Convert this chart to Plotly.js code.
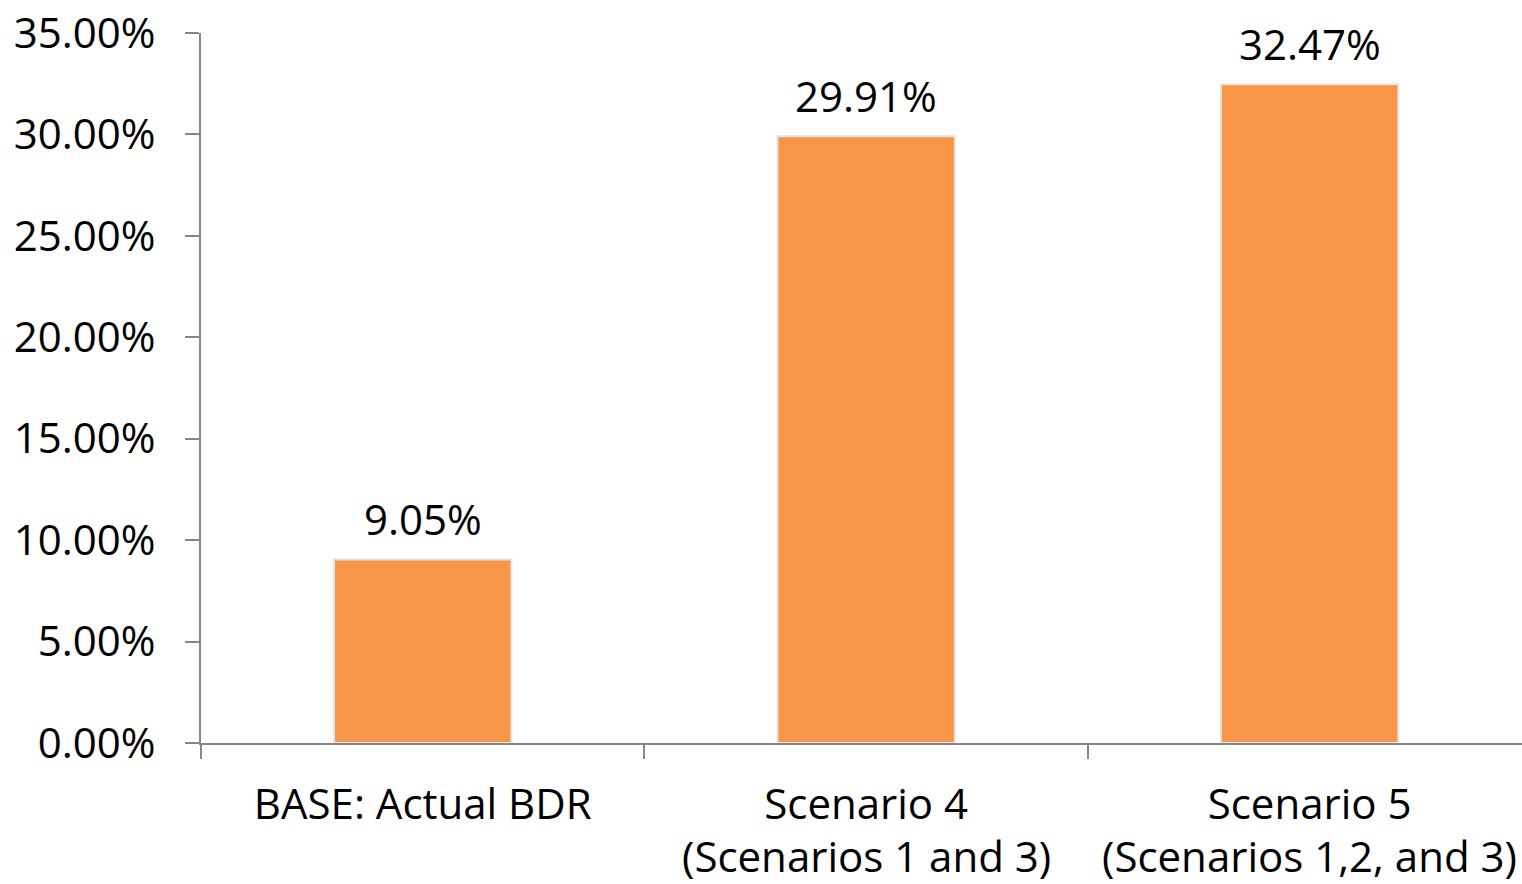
<!DOCTYPE html>
<html>
<head>
<meta charset="utf-8">
<script src="https://cdn.plot.ly/plotly-3.0.1.min.js"></script>
<style>
html,body{margin:0;padding:0;background:#fff;overflow:hidden;}
#chart{width:1522px;height:884px;}
</style>
</head>
<body>
<div id="chart"></div>
<script>
// Data
const categories = ["BASE: Actual BDR", "Scenario 4", "Scenario 5"];
const labelLine2 = ["", "(Scenarios 1 and 3)", "(Scenarios 1,2, and 3)"];
const values = [0.0905, 0.2991, 0.3247];
const yTicks = [0, 0.05, 0.10, 0.15, 0.20, 0.25, 0.30, 0.35];

const FONT = "Open Sans, sans-serif";
const FS = 42;
const AXIS_COLOR = "#868686";

const trace = {
  type: "bar",
  x: categories,
  y: values,
  marker: {color: "#F79646", line: {color: "#E4E4E4", width: 2}},
  hoverinfo: "skip"
};

const annotations = [];
categories.forEach((c, i) => {
  annotations.push({
    x: c, y: values[i], xref: "x", yref: "y",
    text: (values[i] * 100).toFixed(2) + "%",
    showarrow: false, yanchor: "bottom", yshift: 10,
    font: {family: FONT, size: FS, color: "#000"}
  });
  if (labelLine2[i]) {
    annotations.push({
      x: c, y: 0, xref: "x", yref: "y",
      text: labelLine2[i],
      showarrow: false, yanchor: "middle", yshift: -112,
      borderpad: 0,
      font: {family: FONT, size: FS, color: "#000"}
    });
  }
});

const layout = {
  width: 1522, height: 884,
  margin: {l: 201, r: 0, t: 33, b: 141},
  paper_bgcolor: "#fff", plot_bgcolor: "#fff",
  showlegend: false,
  bargap: 0.6,
  font: {family: FONT, size: FS, color: "#000"},
  xaxis: {
    type: "category",
    range: [-0.5, 2.479],
    showline: true, linecolor: AXIS_COLOR, linewidth: 2,
    ticks: "outside", tickson: "boundaries", ticklen: 14, tickwidth: 2, tickcolor: AXIS_COLOR,
    showgrid: false, zeroline: false,
    tickfont: {family: FONT, size: FS, color: "#000"},
    ticklabelstandoff: 24
  },
  yaxis: {
    range: [0, 0.35],
    tickvals: yTicks,
    tickformat: ".2%",
    showline: true, linecolor: AXIS_COLOR, linewidth: 2,
    ticks: "outside", ticklen: 14, tickwidth: 2, tickcolor: AXIS_COLOR,
    showgrid: false, zeroline: false,
    tickfont: {family: FONT, size: FS, color: "#000"},
    ticklabelstandoff: 21
  },
  annotations: annotations
};

Plotly.newPlot("chart", [trace], layout, {displayModeBar: false, staticPlot: true});
</script>
</body>
</html>
